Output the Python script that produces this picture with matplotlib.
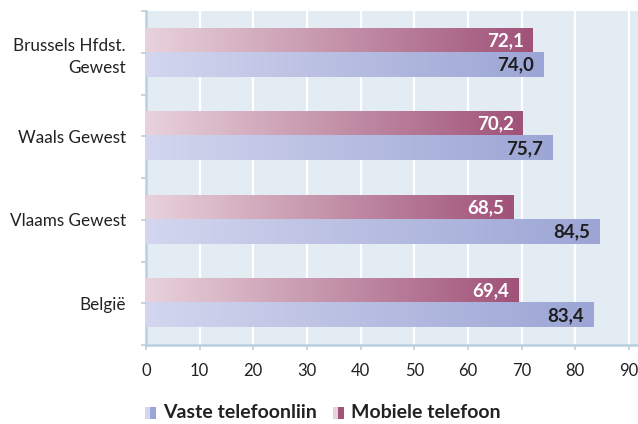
import matplotlib
matplotlib.use("Agg")
import matplotlib.pyplot as plt
import numpy as np
from matplotlib.colors import LinearSegmentedColormap
from matplotlib.patches import Rectangle

categories = ["België", "Vlaams Gewest", "Waals Gewest", "Brussels Hfdst.\nGewest"]
vaste = [83.4, 84.5, 75.7, 74.0]
mobiel = [69.4, 68.5, 70.2, 72.1]
xticks = [0, 10, 20, 30, 40, 50, 60, 70, 80, 90]
series_names = ["Vaste telefoonliin", "Mobiele telefoon"]

plt.rcParams['font.family'] = ['Lato', 'DejaVu Sans']

fig = plt.figure(figsize=(6.38, 4.24), dpi=100)
ax = fig.add_axes([146/638, 1-345/424, 1-146/638, (345-11)/424])
bg = "#e3ecf2"
ax.set_facecolor(bg)
ax.set_xlim(0, 91.7)
ax.set_ylim(-0.5, 3.5)

cm_v = LinearSegmentedColormap.from_list("v", ["#d3d6ee", "#9ca5d5"])
cm_m = LinearSegmentedColormap.from_list("m", ["#e8d2db", "#a05278"])
grad = np.linspace(0, 1, 256).reshape(1, -1)
h = 0.29
vfs = 13.5

for i, (v, m) in enumerate(zip(vaste, mobiel)):
    # mobile on top
    ax.imshow(grad, cmap=cm_m, aspect="auto", extent=[0, m, i, i + h], zorder=3)
    ax.imshow(grad, cmap=cm_v, aspect="auto", extent=[0, v, i - h, i], zorder=3)
    ax.text(m - 1.7, i + h/2, f"{m:.1f}".replace(".", ","), ha="right", va="center",
            color="white", fontsize=vfs, fontweight="bold", zorder=4)
    ax.text(v - 1.7, i - h/2, f"{v:.1f}".replace(".", ","), ha="right", va="center",
            color="#1e1e1e", fontsize=vfs, fontweight="bold", zorder=4)

ax.set_xticks(xticks)
ax.set_xticklabels([str(t) for t in xticks], fontsize=12, color="#222222")
ax.grid(axis="x", color="white", linewidth=1.6, zorder=1)
ax.set_axisbelow(True)

ax.set_yticks([-0.5, 0.5, 1.5, 2.5, 3.5])
ax.set_yticklabels([])
ax.set_yticks(range(len(categories)), minor=True)
ax.set_yticklabels(categories, minor=True, fontsize=12.3, color="#222222", ha="right",
                   linespacing=1.45)
spc = "#b9cfe0"
ax.tick_params(axis="y", which="both", length=3.6, color=spc, width=1.2, pad=11)
ax.tick_params(axis="x", length=3.6, color=spc, width=1.2, pad=9)
for s in ["top", "right"]:
    ax.spines[s].set_visible(False)
for s in ["left", "bottom"]:
    ax.spines[s].set_color(spc)
    ax.spines[s].set_linewidth(1.8)

# legend
def legend_item(x_px, c1, c2, label):
    y0 = 1 - 419/424
    hh = 12/424
    fig.patches.append(Rectangle((x_px/638, y0), 5/638, hh, transform=fig.transFigure,
                                 facecolor=c1, edgecolor="none"))
    fig.patches.append(Rectangle(((x_px+5)/638, y0), 6/638, hh, transform=fig.transFigure,
                                 facecolor=c2, edgecolor="none"))
    fig.text((x_px+18)/638, y0 + hh/2 + 0.002, label, fontsize=14, fontweight="bold",
             color="#222222", va="center", ha="left")

legend_item(145, "#d3d6ee", "#9ca5d5", series_names[0])
legend_item(333, "#e8d2db", "#a05278", series_names[1])

fig.savefig("out.png", dpi=100)
